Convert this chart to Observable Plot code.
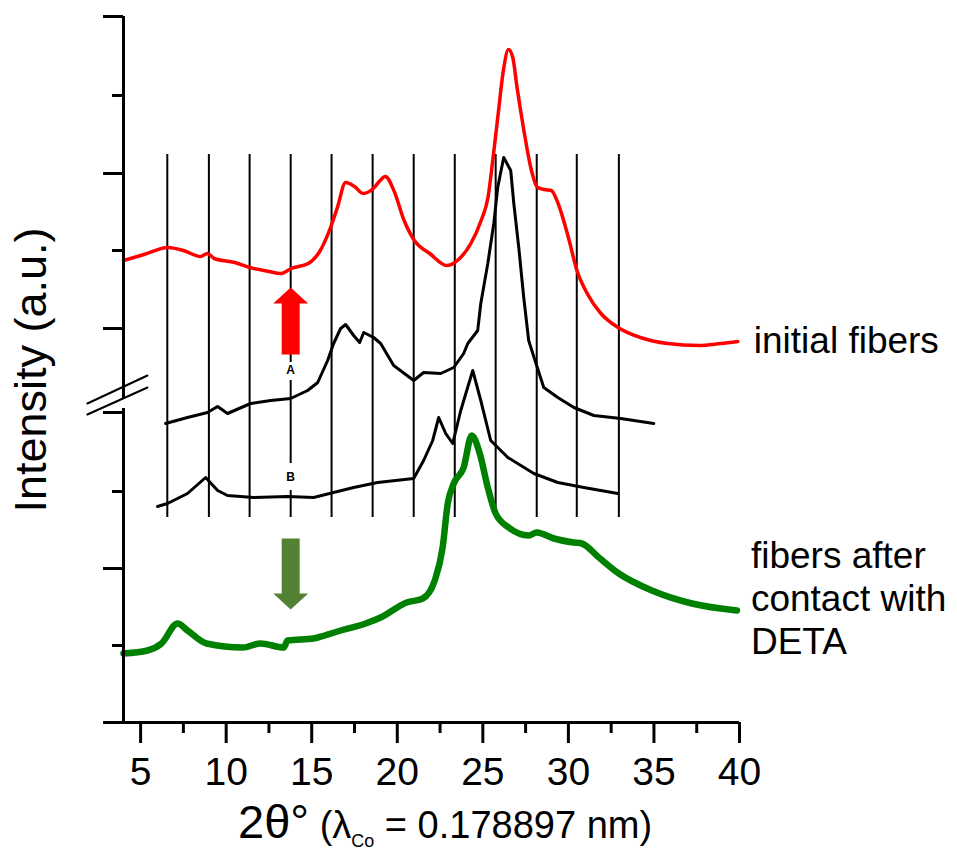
<!DOCTYPE html>
<html><head><meta charset="utf-8">
<script src="https://cdn.jsdelivr.net/npm/d3@7"></script>
<script src="https://cdn.jsdelivr.net/npm/@observablehq/plot@0.6"></script>
<style>body{margin:0;background:#fff;} svg{display:block}</style>
</head><body><div id="chart"></div>
<script>
// ---- data (2θ in degrees, intensity in arbitrary units) ----
const redTheta = [4.0,5.2,6.6,7.5,8.5,8.9,9.3,10.5,11.4,12.5,13.2,13.8,14.8,15.5,16.1,16.5,16.98,17.5,18.0,18.6,19.0,19.3,19.8,20.4,21.0,21.9,22.9,23.7,24.3,24.9,25.3,25.6,25.9,26.2,26.5,26.75,27.0,27.4,27.8,28.2,28.6,29.0,29.4,30.0,30.5,31.1,31.9,32.9,34.2,35.8,37.6,38.9,39.9];
const redInt = [462,468,475,472,466,469,464,460,455,451,449,454,459,472,495,515,540,536,529,534,542,546,532,502,482,469,457,465,479,502,525,565,609,652,673,665,635,592,555,535,533,532,519,485,452,429,409,395,385,379,377,379,381];

const refATheta = [6.46,7.74,8.91,9.5,10.08,11.43,12.6,13.77,14.76,15.35,15.93,16.28,16.69,16.98,17.45,17.8,18.04,18.62,19.03,19.79,20.96,21.54,22.54,23.3,23.88,24.12,24.7,24.88,25.29,25.64,25.87,26.22,26.63,26.81,27.1,27.39,27.68,27.92,28.56,29.38,30.32,31.49,33.06,34.99];
const refAInt = [299,305,310,316,309,319,322,324,332,340,362,379,394,398,387,380,390,385,379,357,342,350,349,355,369,379,392,419,459,499,535,565,552,519,475,425,382,369,335,325,315,307,304,299];

const refBTheta = [5.99,6.57,7.74,8.8,9.5,10.08,11.6,13.59,15.11,16.28,17.45,18.85,20.96,21.54,22.07,22.42,22.83,23.24,23.71,24.41,24.88,25.46,26.46,27.98,29.38,30.9,32.89];
const refBInt = [216,219,229,245,232,227,225,226,225,230,235,240,244,262,282,305,289,279,312,352,322,282,265,249,240,235,229];

const greenTheta = [4.0,5.4,6.22,7.16,7.74,8.85,10.96,12.01,13.36,13.59,15.11,15.75,16.69,18.15,19.03,20.55,21.49,22.19,22.65,22.95,23.3,23.88,24.35,24.82,25.29,25.75,26.51,27.68,28.15,29.15,30.32,30.78,31.78,32.95,34.88,37.22,39.85];
const greenInt = [69,72,79,99,92,79,75,79,75,82,84,87,92,99,105,120,124,142,175,219,239,255,287,269,235,209,195,187,190,184,180,179,165,149,132,119,112];

// reference-pattern vertical lines (2θ)
const refLines = [6.56,8.99,11.37,16.16,18.56,20.96,23.36,25.75,28.15,30.49,32.95];
const refLineTop = 568, refLineBottom = 205;
const labelLineTheta = 13.77;
const labelLineSegments = [[568,360],[342,259],[232,205]];
const refLabels = [{t:"A", v:352}, {t:"B", v:245}];

// axis ticks
const xMajor = [5,10,15,20,25,30,35,40];
const xMinor = [7.5,12.5,17.5,22.5,27.5,32.5,37.5];
const yMajor = [0,154,310,394,549,706];
const yMinor = [77,231,472,627];
const axisBreak = [{id:1, x:[1.89,5.40], y:[319,347]}, {id:2, x:[1.89,5.40], y:[308,335]}];

// arrows (from -> to, intensity units)
const arrows = [{id:"up", x:13.77, from:368, to:435, color:"#ff0000"},
                {id:"down", x:13.77, from:184, to:113, color:"#548235"}];

// ---- layout ----
const W = 957, H = 855;
const mL = 123, mR = 218, mT = 16, mB = 133;
const degPerPx = (40 - 4) / (W - mL - mR);

const zip = (t, v) => t.map((x, i) => ({theta: x, intensity: v[i]}));
const red = zip(redTheta, redInt);
const refA = zip(refATheta, refAInt);
const refB = zip(refBTheta, refBInt);
const green = zip(greenTheta, greenInt);

function arrowPoly(a) {
  const hs = 9 * degPerPx, hh = 17.5 * degPerPx;
  const s = Math.sign(a.to - a.from), head = 16;
  const neck = a.to - s * head;
  return [[a.x-hs,a.from],[a.x+hs,a.from],[a.x+hs,neck],[a.x+hh,neck],[a.x,a.to],[a.x-hh,neck],[a.x-hs,neck]]
    .map(([x,y]) => ({x, y, id: a.id}));
}

const refRuleData = refLines.map(x => ({x, y1: refLineTop, y2: refLineBottom}))
  .concat(labelLineSegments.map(([a,b]) => ({x: labelLineTheta, y1: a, y2: b})));
const breakData = axisBreak.flatMap(b => b.x.map((x,i) => ({id:b.id, x, y:b.y[i]})));

const font = "'Liberation Sans', Arial, Helvetica, sans-serif";

const plot = Plot.plot({
  width: W, height: H,
  marginLeft: mL, marginRight: mR, marginTop: mT, marginBottom: mB,
  x: {domain: [4, 40]},
  y: {domain: [0, 706]},
  style: {fontFamily: font, background: "white", color: "black", overflow: "visible"},
  marks: [
    // reference pattern grid lines
    Plot.ruleX(refRuleData, {x: "x", y1: "y1", y2: "y2", stroke: "black", strokeWidth: 2}),
    Plot.text(refLabels, {x: () => labelLineTheta, y: "v", text: "t", fontSize: 12, fontWeight: "bold", fill: "black"}),
    // reference patterns
    Plot.line(refA, {x: "theta", y: "intensity", stroke: "black", strokeWidth: 3}),
    Plot.line(refB, {x: "theta", y: "intensity", stroke: "black", strokeWidth: 3}),
    // measured curves
    Plot.line(red, {x: "theta", y: "intensity", stroke: "#ff0000", strokeWidth: 3.5, curve: "monotone-x"}),
    Plot.line(green, {x: "theta", y: "intensity", stroke: "#008000", strokeWidth: 6.5, curve: "monotone-x"}),
    // arrows
    Plot.line(arrowPoly(arrows[0]), {x: "x", y: "y", fill: arrows[0].color, stroke: null}),
    Plot.line(arrowPoly(arrows[1]), {x: "x", y: "y", fill: arrows[1].color, stroke: null}),
    // axes
    Plot.ruleY([0], {stroke: "black", strokeWidth: 3}),
    Plot.ruleX([{y1: 0, y2: 314}, {y1: 324, y2: 706}], {x: () => 4, y1: "y1", y2: "y2", stroke: "black", strokeWidth: 3}),
    Plot.line(breakData, {x: "x", y: "y", z: "id", stroke: "black", strokeWidth: 2, clip: false}),
    Plot.axisX({ticks: xMajor, tickSize: 21, tickPadding: 14, strokeWidth: 3, fontSize: 39, label: null, tickFormat: d => String(d)}),
    Plot.axisX({ticks: xMinor, tickSize: 11, strokeWidth: 3, fill: "none", label: null}),
    Plot.axisY({ticks: yMajor, tickSize: 20, strokeWidth: 3, fill: "none", label: null}),
    Plot.axisY({ticks: yMinor, tickSize: 11, strokeWidth: 3, fill: "none", label: null}),
    // series labels
    Plot.text(red, Plot.selectLast({x: "theta", y: "intensity", text: () => "initial fibers", dx: 16, dy: 0, textAnchor: "start", fontSize: 37, fill: "black"})),
    Plot.text(green, Plot.selectLast({x: "theta", y: "intensity", text: () => "fibers after\ncontact with\nDETA", dx: 14, dy: -13, textAnchor: "start", lineHeight: 1.16, fontSize: 37, fill: "black"}))
  ]
});

const svg = d3.select(plot);
// y-axis title
svg.append("text")
  .attr("transform", "translate(46,370) rotate(-90)")
  .attr("text-anchor", "middle")
  .attr("font-family", font).attr("font-size", 45).attr("fill", "black")
  .text("Intensity (a.u.)");
// x-axis title with subscript
const xl = svg.append("text")
  .attr("x", 238).attr("y", 838)
  .attr("text-anchor", "start")
  .attr("font-family", font).attr("fill", "black");
xl.append("tspan").attr("font-size", 47).text("2θ°");
xl.append("tspan").attr("font-size", 38).text(" (λ");
xl.append("tspan").attr("font-size", 18).attr("dy", 9).text("Co");
xl.append("tspan").attr("font-size", 38).attr("dy", -9).text(" = 0.178897 nm)");

document.getElementById("chart").appendChild(plot);
</script>
</body></html>
